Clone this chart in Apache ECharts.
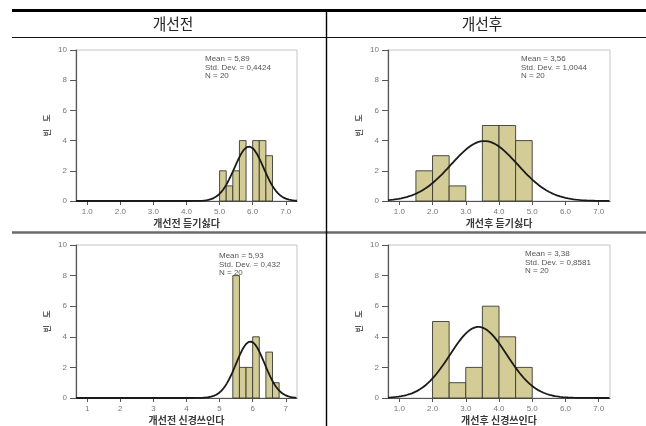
<!DOCTYPE html>
<html>
<head>
<meta charset="utf-8">
<script src="https://cdn.jsdelivr.net/npm/echarts@6/dist/echarts.min.js"></script>
<style>
  html, body { margin: 0; padding: 0; background: #fff; }
  #wrap { position: relative; width: 646px; height: 426px; }
  #plots, #table { position: absolute; left: 0; top: 0; width: 646px; height: 426px; }
  #plots { filter: blur(0.45px); }
  #table { pointer-events: none; }
</style>
</head>
<body>
<div id="wrap">
  <div id="plots"></div>
  <div id="table"></div>
</div>
<script>
// Column headers of the comparison table
const columnHeaders = ['개선전', '개선후'];

// Histogram panels: x-axis titles
const xTitles = ['개선전 듣기싫다', '개선후 듣기싫다', '개선전 신경쓰인다', '개선후 신경쓰인다'];

// Bin edges and frequencies for each panel
const binEdges1 = [5.0, 5.2, 5.4, 5.6, 5.8, 6.0, 6.2, 6.4, 6.6];
const counts1   = [2, 1, 2, 4, 0, 4, 4, 3];

const binEdges2 = [1.5, 2.0, 2.5, 3.0, 3.5, 4.0, 4.5, 5.0];
const counts2   = [2, 3, 1, 0, 5, 5, 4];

const binEdges3 = [5.4, 5.6, 5.8, 6.0, 6.2, 6.4, 6.6, 6.8];
const counts3   = [8, 2, 2, 4, 0, 3, 1];

const binEdges4 = [2.0, 2.5, 3.0, 3.5, 4.0, 4.5, 5.0];
const counts4   = [5, 1, 2, 6, 4, 2];

// Descriptive statistics shown in each panel
const means      = [5.89, 3.56, 5.93, 3.38];
const stdDevs    = [0.4424, 1.0044, 0.432, 0.8581];
const sampleSize = [20, 20, 20, 20];
const meanLabels = ['5,89', '3,56', '5,93', '3,38'];
const sdLabels   = ['0,4424', '1,0044', '0,432', '0,8581'];

// Axis ticks
const xTickValues = [1, 2, 3, 4, 5, 6, 7];
const xTickLabelsDecimal = ['1.0', '2.0', '3.0', '4.0', '5.0', '6.0', '7.0'];
const xTickLabelsInteger = ['1', '2', '3', '4', '5', '6', '7'];
const yTickValues = [0, 2, 4, 6, 8, 10];

const binEdgeSets = [binEdges1, binEdges2, binEdges3, binEdges4];
const countSets = [counts1, counts2, counts3, counts4];
const tickLabelSets = [xTickLabelsDecimal, xTickLabelsDecimal, xTickLabelsInteger, xTickLabelsDecimal];

const X_MIN = 0.66, X_MAX = 7.34;
const BAR_FILL = '#d3cc97';
const BAR_EDGE = '#3a3a32';
const AXIS_DARK = '#555';
const LABEL_GREY = '#777';
const CJK = '"Noto Sans CJK KR", "Noto Sans", sans-serif';
const LATIN = '"Liberation Sans", Arial, sans-serif';

const gridBoxes = [
  { left: 76, top: 50, width: 221, height: 151 },
  { left: 388, top: 50, width: 222, height: 151 },
  { left: 76, top: 245, width: 221, height: 153 },
  { left: 388, top: 245, width: 222, height: 153 }
];

// Normal curve scaled to the histogram: N * binWidth * pdf(x)
function normalCurve(mean, sd, n, binWidth) {
  const pts = [];
  const step = 0.02;
  for (let x = X_MIN; x <= X_MAX + 1e-9; x += step) {
    const z = (x - mean) / sd;
    pts.push([x, n * binWidth * Math.exp(-0.5 * z * z) / (sd * Math.sqrt(2 * Math.PI))]);
  }
  return pts;
}

const grids = [], xAxes = [], yAxes = [], series = [], graphics = [];

gridBoxes.forEach((g, i) => {
  grids.push(Object.assign({
    show: true, borderColor: '#c4c4c4', borderWidth: 1, backgroundColor: 'transparent'
  }, g));

  const labels = tickLabelSets[i];
  xAxes.push({
    type: 'value', gridIndex: i, min: X_MIN, max: X_MAX,
    name: xTitles[i], nameLocation: 'middle', nameGap: 17,
    nameTextStyle: { fontFamily: CJK, fontSize: 10, fontWeight: 'bold', color: '#3a3a3a' },
    splitLine: { show: false },
    axisLine: { show: true, onZero: false, lineStyle: { color: AXIS_DARK, width: 1.2 } },
    axisTick: { show: true, length: 4, customValues: xTickValues, lineStyle: { color: AXIS_DARK } },
    axisLabel: {
      customValues: xTickValues, margin: 7, fontFamily: LATIN, fontSize: 8, color: LABEL_GREY,
      formatter: v => labels[xTickValues.indexOf(Math.round(v))] || ''
    }
  });

  yAxes.push({
    type: 'value', gridIndex: i, min: 0, max: 10, interval: 2,
    name: '빈    도', nameLocation: 'middle', nameRotate: 90, nameGap: 25,
    nameTextStyle: { fontFamily: CJK, fontSize: 8, fontWeight: 'bold', color: '#555' },
    splitLine: { show: false },
    axisLine: { show: true, lineStyle: { color: AXIS_DARK, width: 1.2 } },
    axisTick: { show: true, length: 6, lineStyle: { color: AXIS_DARK } },
    axisLabel: { margin: 9, fontFamily: LATIN, fontSize: 8, color: LABEL_GREY }
  });

  const edges = binEdgeSets[i];
  const counts = countSets[i];
  const bins = counts.map((c, k) => [edges[k], edges[k + 1], c]);

  series.push({
    type: 'custom', xAxisIndex: i, yAxisIndex: i,
    encode: { x: [0, 1], y: 2 },
    data: bins,
    z: 2,
    renderItem: (params, api) => {
      const count = api.value(2);
      if (!count) return null;
      const a = api.coord([api.value(0), count]);
      const b = api.coord([api.value(1), 0]);
      return {
        type: 'rect',
        shape: { x: a[0], y: a[1], width: b[0] - a[0], height: b[1] - a[1] },
        style: { fill: BAR_FILL, stroke: BAR_EDGE, lineWidth: 0.9 }
      };
    }
  });

  const binWidth = edges[1] - edges[0];
  series.push({
    type: 'line', xAxisIndex: i, yAxisIndex: i, z: 3,
    showSymbol: false, symbol: 'none', silent: true,
    lineStyle: { color: '#1a1a1a', width: 1.8 },
    data: normalCurve(means[i], stdDevs[i], sampleSize[i], binWidth)
  });
});

// Statistics text blocks, top right of each plot
const statAnchors = [[205, 59], [521, 59], [219, 256], [525, 254]];
statAnchors.forEach((p, i) => {
  graphics.push({
    type: 'text', x: p[0], y: p[1] - 4, z: 10,
    style: {
      text: 'Mean = ' + meanLabels[i] + '\nStd. Dev. = ' + sdLabels[i] + '\nN = ' + sampleSize[i],
      font: '8px ' + LATIN, fill: '#555', lineHeight: 8.4
    }
  });
});

const plots = echarts.init(document.getElementById('plots'), null, { renderer: 'canvas' });
plots.setOption({
  animation: false,
  backgroundColor: '#fff',
  grid: grids,
  xAxis: xAxes,
  yAxis: yAxes,
  series: series,
  graphic: graphics
});

// Table rules and column headers drawn on a crisp overlay
const tableGraphics = [
  { type: 'line', shape: { x1: 12, y1: 10.5, x2: 646, y2: 10.5 }, style: { stroke: '#000', lineWidth: 3 } },
  { type: 'line', shape: { x1: 12, y1: 37.5, x2: 646, y2: 37.5 }, style: { stroke: '#111', lineWidth: 1 } },
  { type: 'line', shape: { x1: 12, y1: 232.5, x2: 646, y2: 232.5 }, style: { stroke: '#6b6b6b', lineWidth: 2.5 } },
  { type: 'line', shape: { x1: 326.5, y1: 10, x2: 326.5, y2: 426 }, style: { stroke: '#000', lineWidth: 1.4 } }
];
[173, 482].forEach((cx, i) => {
  tableGraphics.push({
    type: 'text', x: cx, y: 24, scaleX: 0.92,
    style: {
      text: columnHeaders[i], textAlign: 'center', textVerticalAlign: 'middle',
      font: '16px ' + CJK, fill: '#222'
    }
  });
});

const table = echarts.init(document.getElementById('table'), null, { renderer: 'canvas' });
table.setOption({
  animation: false,
  backgroundColor: 'transparent',
  graphic: tableGraphics
});
</script>
</body>
</html>
